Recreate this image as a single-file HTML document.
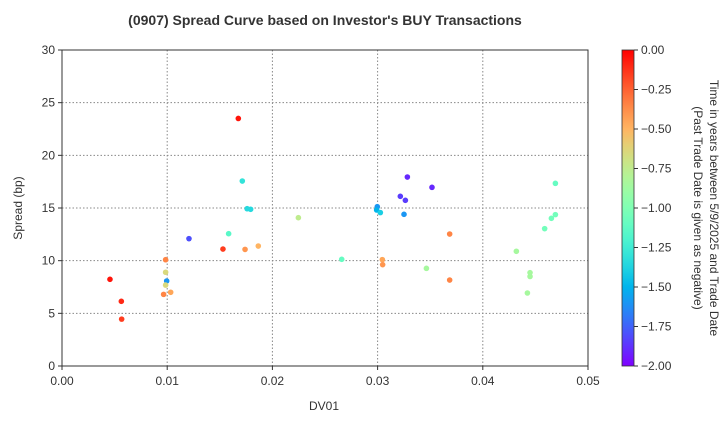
<!DOCTYPE html>
<html><head><meta charset="utf-8"><style>
body{margin:0;background:#fff;}
svg{font-family:"Liberation Sans",sans-serif;}
</style></head><body>
<svg id="c" width="720" height="420" xmlns="http://www.w3.org/2000/svg">
<defs><linearGradient id="rb" x1="0" y1="1" x2="0" y2="0"></linearGradient></defs>
<text x="325" y="25" text-anchor="middle" font-size="14" font-weight="bold" fill="#333">(0907)   Spread Curve based on Investor's BUY Transactions</text>
<g id="grid"></g>
<g id="pts"></g>
<rect x="62" y="50" width="526" height="316" fill="none" stroke="#333" stroke-width="1"/>
<g id="axes"></g>
<text x="324" y="410" text-anchor="middle" font-size="12" fill="#333">DV01</text>
<text transform="translate(22,208) rotate(-90)" text-anchor="middle" font-size="12" fill="#333">Spread (bp)</text>
<rect x="622" y="50" width="12" height="316" fill="url(#rb)" stroke="#333" stroke-width="0.8"/>
<g id="cb"></g>
<text transform="translate(710,208) rotate(90)" text-anchor="middle" font-size="12" fill="#333">Time in years between 5/9/2025 and Trade Date</text>
<text transform="translate(694,208) rotate(90)" text-anchor="middle" font-size="12" fill="#333">(Past Trade Date is given as negative)</text>
</svg>
<script>
const dv01=[.01676,.01714,.0176,.01793,.02247,.01207,.01584,.0153,.0174,.01866,.00985,.00985,.00456,.00995,.00985,.01033,.00966,.00564,.00567,
.03283,.03517,.03216,.03264,.02997,.02991,.03026,.03251,.03685,.02659,.03045,.03048,.03464,.03685,.0469,.0469,.04652,.04588,.04319,.04449,.04449,.04424];
const spread=[23.5,17.56,14.93,14.88,14.08,12.09,12.56,11.1,11.07,11.39,10.09,8.9,8.23,8.07,7.68,7.0,6.8,6.14,4.45,
17.94,16.96,16.11,15.73,15.12,14.81,14.56,14.4,12.53,10.13,10.1,9.62,9.27,8.16,17.34,14.37,14.02,13.04,10.89,8.86,8.5,6.93];
const years=[-0.05,-1.3,-1.35,-1.35,-0.75,-1.8,-1.15,-0.15,-0.4,-0.5,-0.35,-0.65,-0.05,-1.6,-0.65,-0.45,-0.35,-0.1,-0.15,
-1.9,-1.9,-1.85,-1.85,-1.6,-1.5,-1.4,-1.6,-0.35,-1.1,-0.45,-0.4,-0.85,-0.35,-1.1,-1.05,-1.05,-1.05,-0.85,-0.85,-0.85,-0.85];
const xTicks=[0,0.01,0.02,0.03,0.04,0.05];
const xTickLabels=["0.00","0.01","0.02","0.03","0.04","0.05"];
const yTicks=[0,5,10,15,20,25,30];
const cbTicks=[0,-0.25,-0.5,-0.75,-1,-1.25,-1.5,-1.75,-2];
const cbLabels=["0.00","−0.25","−0.50","−0.75","−1.00","−1.25","−1.50","−1.75","−2.00"];
const NS="http://www.w3.org/2000/svg";
const X=v=>62+v/0.05*526, Y=v=>366-v/30*316, CY=v=>366-(v+2)/2*316;
function rainbow(t){const x=(t+2)/2;const c=v=>Math.round(Math.max(0,Math.min(1,v))*255);
return `rgb(${c(Math.abs(2*x-0.5))},${c(Math.sin(Math.PI*x))},${c(Math.cos(Math.PI*x/2))})`;}
function mk(tag,at,par){const e=document.createElementNS(NS,tag);for(const k in at)e.setAttribute(k,at[k]);par.appendChild(e);return e;}
const grid=document.getElementById('grid'),axes=document.getElementById('axes'),pts=document.getElementById('pts'),cb=document.getElementById('cb');
xTicks.forEach((v,i)=>{
 const l=mk('line',{x1:X(v),x2:X(v),y1:50,y2:366,stroke:'#888','stroke-dasharray':'1.5,2','stroke-width':1},grid);
 
 
 const tk=mk('line',{x1:X(v),x2:X(v),y1:366,y2:370,stroke:'#333'},axes);
 
 
 const t=mk('text',{x:X(v),y:385,'text-anchor':'middle','font-size':12,fill:'#333'},axes);t.textContent=xTickLabels[i];
 
 
});
yTicks.forEach(v=>{
 const l=mk('line',{x1:62,x2:588,y1:Y(v),y2:Y(v),stroke:'#888','stroke-dasharray':'1.5,2','stroke-width':1},grid);
 
 
 const tk=mk('line',{x1:58,x2:62,y1:Y(v),y2:Y(v),stroke:'#333'},axes);
 
 
 const t=mk('text',{x:55,y:Y(v)+4,'text-anchor':'end','font-size':12,fill:'#333'},axes);t.textContent=v;
 
 
});
dv01.forEach((d,i)=>{
 const c=mk('circle',{cx:X(d),cy:Y(spread[i]),r:2.8,fill:rainbow(years[i])},pts);
 
 
});
const g=document.getElementById('rb');
for(let i=0;i<=20;i++){const s=mk('stop',{offset:i/20,'stop-color':rainbow(-2+i/10)},g);}
cbTicks.forEach((v,i)=>{
 const tk=mk('line',{x1:634,x2:638,y1:CY(v),y2:CY(v),stroke:'#333'},cb);
 
 
 const t=mk('text',{x:641,y:CY(v)+4,'font-size':12,fill:'#333'},cb);t.textContent=cbLabels[i];
 
 
});
</script>
</body></html>
